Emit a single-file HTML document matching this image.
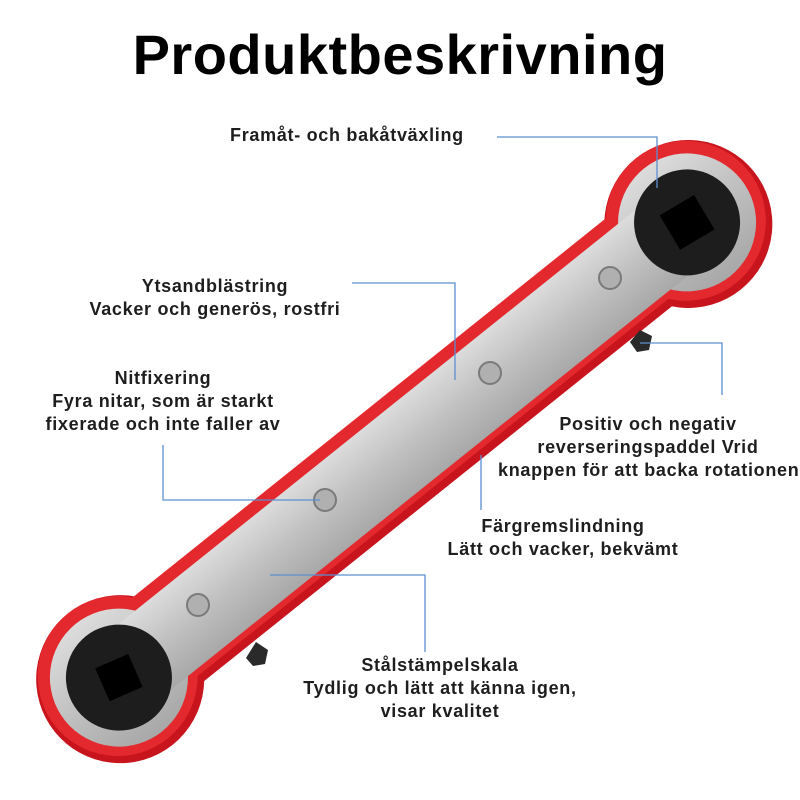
<!DOCTYPE html>
<html><head><meta charset="utf-8"><style>
html,body{margin:0;padding:0;background:#fff;width:800px;height:800px;overflow:hidden}
.t{position:absolute;font-family:"Liberation Sans",sans-serif;color:#1e1e1e;font-size:18px;letter-spacing:0.7px;font-weight:bold;text-align:center;line-height:23px;white-space:nowrap}
h1{position:absolute;left:0;width:800px;top:22px;margin:0;text-align:center;font-family:"Liberation Sans",sans-serif;font-size:56px;font-weight:bold;color:#000;letter-spacing:0.5px}
</style></head><body>
<h1>Produktbeskrivning</h1>
<svg width="800" height="800" style="position:absolute;left:0;top:0">
<defs>
<linearGradient id="sv" x1="0" y1="0" x2="0" y2="1"><stop offset="0" stop-color="#dcdcdc"/><stop offset="0.5" stop-color="#c0c0c0"/><stop offset="1" stop-color="#a8a8a8"/></linearGradient>
</defs>
<g transform="translate(403,450) rotate(-38.7)">
<g fill="#c8141c">
<circle cx="-364" cy="2" r="84"/><circle cx="364" cy="2" r="84"/>
<rect x="-364" y="-52" width="728" height="108"/>
</g>
<g fill="#e3292d">
<circle cx="-364" cy="-2" r="80"/><circle cx="364" cy="-2" r="80"/>
<rect x="-364" y="-54" width="728" height="102"/>
</g>
<g fill="url(#sv)">
<circle cx="-364" cy="0" r="69"/><circle cx="364" cy="0" r="69"/>
<rect x="-364" y="-42" width="728" height="84"/>
</g>
<circle cx="-364" cy="0" r="53" fill="#1d1d1d"/><circle cx="364" cy="0" r="53" fill="#1d1d1d"/>
<rect x="-382" y="-18" width="36" height="36" fill="#000" transform="rotate(15 -364 0)"/>
<rect x="344" y="-20" width="40" height="40" fill="#000" transform="rotate(8 364 0)"/>
</g>
<g fill="#b0b0b0" stroke="#7a7a7a" stroke-width="2">
<circle cx="610" cy="278" r="11"/><circle cx="490" cy="373" r="11"/><circle cx="325" cy="500" r="11"/><circle cx="198" cy="605" r="11"/>
</g>
<path d="M630 342 l10 -12 l12 6 l-3 14 l-12 2z" fill="#2a2a2a"/>
<path d="M246 658 l10 -16 l12 8 l-3 14 l-12 2z" fill="#2a2a2a"/>
<g stroke="#5b8fcf" stroke-width="1.3" fill="none">
<polyline points="497,137 657,137 657,188"/>
<polyline points="352,283 455,283 455,380"/>
<polyline points="163,445 163,500 320,500"/>
<polyline points="640,343 722,343 722,395"/>
<polyline points="481,455 481,510"/>
<polyline points="270,575 425,575 425,652"/>
</g>
</svg>
<div class="t" style="left:230px;top:124px;text-align:left">Framåt- och bakåtväxling</div>
<div class="t" style="left:65px;width:300px;top:275px">Ytsandblästring<br>Vacker och generös, rostfri</div>
<div class="t" style="left:13px;width:300px;top:367px">Nitfixering<br>Fyra nitar, som är starkt<br>fixerade och inte faller av</div>
<div class="t" style="left:498px;width:300px;top:413px">Positiv och negativ<br>reverseringspaddel Vrid<br>knappen för att backa rotationen</div>
<div class="t" style="left:413px;width:300px;top:515px">Färgremslindning<br>Lätt och vacker, bekvämt</div>
<div class="t" style="left:290px;width:300px;top:654px">Stålstämpelskala<br>Tydlig och lätt att känna igen,<br>visar kvalitet</div>
</body></html>
